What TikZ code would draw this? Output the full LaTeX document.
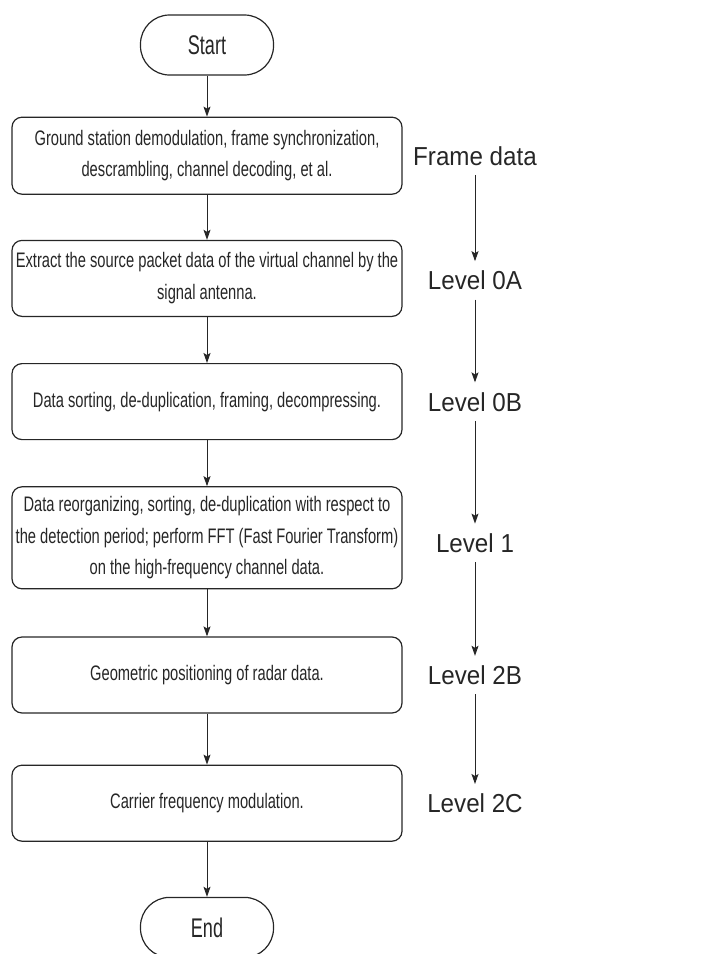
\documentclass[tikz,border=0pt]{standalone}
\usepackage{fontspec}
\setmainfont{Liberation Sans}
\newfontfamily\boxfont[FakeStretch=0.70]{Liberation Sans}
\newfontfamily\termfont[FakeStretch=0.67]{Liberation Sans}
\newfontfamily\lvlfont[FakeStretch=0.93]{Liberation Sans}
\usetikzlibrary{positioning,arrows.meta}
\tikzset{
  procbox/.style = {shape=rectangle, rounded corners=10pt,
                    draw=black!85, line width=1.2pt, align=center,
                    minimum width=390pt, minimum height=77pt,
                    text=black!85, font=\boxfont\fontsize{21}{31.7}\selectfont},
  termbox/.style = {shape=rectangle, rounded corners=29pt,
                    draw=black!85, line width=1.2pt,
                    minimum width=133pt, minimum height=60pt,
                    text=black!85, font=\termfont\fontsize{27}{30}\selectfont},
  lvl/.style     = {inner sep=0pt, text height=19pt, text depth=0pt,
                    minimum height=38pt, text=black!85,
                    font=\lvlfont\fontsize{26}{30}\selectfont},
  flow/.style    = {draw=black!85, line width=1pt,
                    -{Stealth[length=10pt,width=7pt,inset=2pt]}}
}

\begin{document}
\begin{tikzpicture}[x=1pt,y=-1pt]
  \useasboundingbox (0,0) rectangle (721,954);

  % main column
  \node[termbox] (start) at (207,45) {Start};
  \node[procbox, below=41pt of start] (b1)
    {Ground station demodulation, frame synchronization,\\descrambling, channel decoding, et al.};
  \node[procbox, below=45pt of b1, minimum height=76pt] (b2)
    {Extract the source packet data of the virtual channel by the\\signal antenna.};
  \node[procbox, below=46pt of b2, minimum height=76pt] (b3)
    {Data sorting, de-duplication, framing, decompressing.};
  \node[procbox, below=46pt of b3, minimum height=102pt] (b4)
    {Data reorganizing, sorting, de-duplication with respect to\\the detection period; perform FFT (Fast Fourier Transform)\\on the high-frequency channel data.};
  \node[procbox, below=47pt of b4, minimum height=76pt] (b5)
    {Geometric positioning of radar data.};
  \node[procbox, below=51pt of b5, minimum height=76pt] (b6)
    {Carrier frequency modulation.};
  \node[termbox, below=55pt of b6] (end) {End};

  \draw[flow] (start) -- (b1);
  \draw[flow] (b1) -- (b2);
  \draw[flow] (b2) -- (b3);
  \draw[flow] (b3) -- (b4);
  \draw[flow] (b4) -- (b5);
  \draw[flow] (b5) -- (b6);
  \draw[flow] (b6) -- (end);

  % data levels
  \coordinate (lx) at (475,0);
  \node[lvl] (l0)  at (lx |- b1) {Frame data};
  \node[lvl] (l0a) at ([yshift=-2pt]lx |- b2) {Level 0A};
  \node[lvl] (l0b) at (lx |- b3) {Level 0B};
  \node[lvl] (l1)  at ([yshift=-5pt]lx |- b4) {Level 1};
  \node[lvl] (l2b) at (lx |- b5) {Level 2B};
  \node[lvl] (l2c) at (lx |- b6) {Level 2C};

  \draw[flow] (l0) -- (l0a);
  \draw[flow] (l0a) -- (l0b);
  \draw[flow] (l0b) -- (l1);
  \draw[flow] (l1) -- (l2b);
  \draw[flow] (l2b) -- (l2c);
\end{tikzpicture}
\end{document}
